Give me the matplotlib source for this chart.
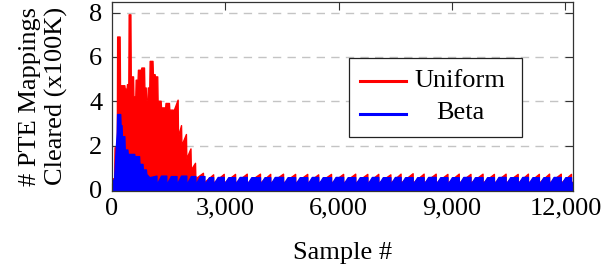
import matplotlib
matplotlib.use("Agg")
import matplotlib.pyplot as plt
from matplotlib.lines import Line2D
from matplotlib.patches import Rectangle

plt.rcParams["font.family"] = ["Liberation Serif", "DejaVu Serif"]

# ------------------------------------------------------------
# data (samples vs. x100K mappings)
# ------------------------------------------------------------
# Uniform: spiky start, outline vertices
uniform_early_x = [0, 70, 80, 140, 150, 215, 225, 340, 350, 400, 410, 445, 455, 500,
                   510, 570, 580, 630, 640, 690, 700, 780, 790, 860, 870, 905, 915, 950,
                   960, 1000, 1010, 1085, 1095, 1140, 1150, 1210, 1220, 1300, 1310, 1420,
                   1430, 1520, 1530, 1620, 1630, 1750, 1760, 1840, 1850, 1970, 1980, 2090,
                   2100, 2210, 2220, 2420, 2430]
uniform_early_y = [0.5, 0.5, 1.9, 1.9, 6.9, 6.9, 4.7, 4.7, 4.55, 4.55, 4.75, 4.75, 7.9, 7.9,
                   5.1, 5.1, 4.2, 4.2, 4.95, 4.95, 5.4, 5.4, 5.5, 5.5, 4.6, 4.6, 4.05, 4.05,
                   4.6, 4.6, 5.8, 5.8, 5.2, 5.2, 5.1, 5.1, 4.0, 4.0, 3.7, 3.7,
                   3.9, 3.9, 3.6, 3.6, 3.5, 4.05, 2.4, 2.9, 2.0, 2.5, 1.4, 1.85,
                   0.9, 1.2, 0.5, 0.75, 0.3]

# Uniform: periodic saw-tooth, tooth peak positions / heights
uniform_peaks = [2690, 2970, 3270, 3580, 3930, 4200, 4540, 4860, 5180, 5470, 5810, 6130,
                 6450, 6770, 7060, 7380, 7650, 7970, 8260, 8580, 8890, 9190, 9500, 9820,
                 10120, 10430, 10750, 11020, 11310, 11580, 11890, 12160]
uniform_heights = [0.68, 0.70, 0.70, 0.71, 0.71, 0.70, 0.71, 0.70, 0.70, 0.68, 0.70, 0.70,
                   0.71, 0.70, 0.70, 0.68, 0.71, 0.73, 0.71, 0.71, 0.70, 0.71, 0.70, 0.71,
                   0.70, 0.71, 0.70, 0.71, 0.70, 0.71, 0.71, 0.70]
uniform_trough = 0.3

# Beta: early outline vertices
beta_early_x = [0, 70, 100, 140, 150, 230, 240, 265, 275, 340, 350, 420, 430, 600, 610,
                730, 740, 820, 830, 910, 920, 1000]
beta_early_y = [0.3, 0.5, 1.5, 2.6, 3.4, 3.4, 2.9, 2.9, 2.4, 2.4, 1.8, 1.8, 1.6, 1.6, 1.5,
                1.5, 1.15, 1.15, 0.9, 0.9, 0.7, 0.55]

# Beta: saw-tooth drops before the periodic part, then same drops as Uniform
beta_drops_early = [1190, 1450, 1720, 1980, 2220, 2460]
beta_heights_early = [0.62, 0.62, 0.60, 0.62, 0.60, 0.60]
beta_heights = [0.55, 0.56, 0.55, 0.56, 0.55, 0.55, 0.56, 0.55, 0.55, 0.56, 0.55, 0.56,
                0.55, 0.55, 0.56, 0.55, 0.56, 0.55, 0.55, 0.56, 0.55, 0.55, 0.56, 0.55,
                0.55, 0.56, 0.55, 0.56, 0.55, 0.55, 0.56, 0.55]
beta_trough = 0.22

xticks = [0, 3000, 6000, 9000, 12000]
xtick_labels = ["0", "3,000", "6,000", "9,000", "12,000"]
yticks = [0, 2, 4, 6, 8]


def ramp_teeth(xs, ys, peaks, heights, trough):
    # linear rise from previous drop up to each peak, then drop
    xs, ys = list(xs), list(ys)
    for p, h in zip(peaks, heights):
        xs += [p, p]
        ys += [h, trough]
    return xs, ys


def flat_teeth(xs, ys, drops, heights, trough, rise=120):
    # quick rise after a drop, flat top, drop
    xs, ys = list(xs), list(ys)
    for d, h in zip(drops, heights):
        if ys[-1] == trough:
            xs.append(xs[-1] + rise)
            ys.append(h)
        xs += [d, d]
        ys += [h, trough]
    return xs, ys


def area(ax, xs, ys, color, z):
    # closed polygon down below the axis, plus the outline
    ax.fill(list(xs) + [xs[-1], xs[0]], list(ys) + [-0.3, -0.3],
            facecolor=color, edgecolor="none", zorder=z)
    ax.plot(xs, ys, color=color, lw=1.0, zorder=z)


red_x, red_y = ramp_teeth(uniform_early_x, uniform_early_y, uniform_peaks,
                          uniform_heights, uniform_trough)
red_x += [12250]
red_y += [0.4]

blue_x, blue_y = flat_teeth(beta_early_x, beta_early_y,
                            beta_drops_early + uniform_peaks,
                            beta_heights_early + beta_heights, beta_trough)
blue_x += [12250]
blue_y += [0.45]

# ------------------------------------------------------------
# plot
# ------------------------------------------------------------
fig = plt.figure(figsize=(6.16, 2.73), dpi=100)
ax = fig.add_axes([112 / 616, 1 - 191 / 273, 461 / 616, 189 / 273])

area(ax, red_x, red_y, "#ff0000", 2)
area(ax, blue_x, blue_y, "#0000ff", 3)

ax.set_xlim(0, 12200)
ax.set_ylim(-0.05, 8.48)
ax.set_xticks(xticks)
ax.set_xticklabels(xtick_labels)
ax.set_yticks(yticks)

ax.yaxis.grid(True, color="#c4c4c4", linestyle=(0, (6, 4.5)), linewidth=1.0, zorder=1)
ax.set_axisbelow(True)

for s in ax.spines.values():
    s.set_linewidth(0.9)
    s.set_color("#333333")
    s.set_zorder(6)

ax.tick_params(direction="in", length=6, width=0.8, color="#333333",
               top=True, right=True, labelsize=19)
ax.tick_params(axis="y", pad=7)
ax.tick_params(axis="x", pad=5)

# legend drawn by hand (centered labels as in pgfplots)
tr = ax.transAxes
ax.add_patch(Rectangle((0.5148, 0.287), 0.3739, 0.415, transform=tr,
                       facecolor="white", edgecolor="#222222", lw=0.9, zorder=7))
ax.add_line(Line2D([0.538, 0.638], [0.582, 0.582], transform=tr,
                   color="#ff0000", lw=2.2, zorder=8))
ax.add_line(Line2D([0.538, 0.638], [0.407, 0.407], transform=tr,
                   color="#0000ff", lw=2.2, zorder=8))
ax.text(0.755, 0.582, "Uniform", transform=tr, ha="center", va="center",
        fontsize=19, zorder=8)
ax.text(0.755, 0.415, "Beta", transform=tr, ha="center", va="center",
        fontsize=19, zorder=8)

fig.text(43.5 / 616, 1 - 96 / 273, "# PTE Mappings\nCleared (x100K)", rotation=90,
         ha="center", va="center", fontsize=19, linespacing=1.22)
fig.text(343 / 616, 1 - 253 / 273, "Sample #", ha="center", va="center", fontsize=19)

fig.savefig("out.png", dpi=100)
